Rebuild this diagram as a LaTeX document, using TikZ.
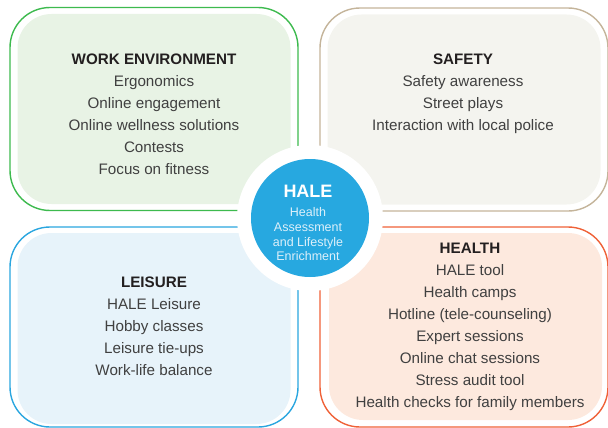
\documentclass[tikz,border=0pt]{standalone}
\usepackage{fontspec}
\setmainfont{Liberation Sans}
\usepackage{xcolor}
\usetikzlibrary{positioning}
\definecolor{workline}{HTML}{3DBA4E}
\definecolor{workfill}{HTML}{E8F3E5}
\definecolor{safeline}{HTML}{C4B49A}
\definecolor{safefill}{HTML}{F4F4EF}
\definecolor{leisline}{HTML}{2AA6DF}
\definecolor{leisfill}{HTML}{E7F3FA}
\definecolor{healline}{HTML}{EF6137}
\definecolor{healfill}{HTML}{FDE9DE}
\definecolor{haleblue}{HTML}{27A8E0}
\definecolor{haletext}{HTML}{DDF0FA}
\definecolor{textgray}{HTML}{404040}
\definecolor{headblack}{HTML}{231F20}

\begin{document}
\begin{tikzpicture}
            [x=1pt,y=-1pt,
             outer/.style ={draw,line width=1.4pt,rounded corners=40pt,inner sep=0pt,outer sep=0pt,minimum width=288pt,minimum height=203pt},
             inner/.style ={rounded corners=34pt,inner sep=0pt,outer sep=0pt,minimum width=273pt,minimum height=190pt},
             itemtext/.style ={align=center,anchor=base,inner sep=0pt,text=textgray,font=\fontsize{15.2}{22}\selectfont}]
            \useasboundingbox (0,0) rectangle (608,428);
            % the four quarters
            \node[outer][draw=workline] (work) at (154,109){};
            \node[outer][draw=safeline] (safety) at (464,109.5){};
            \node[outer][draw=leisline,minimum height=200pt] (leisure) at (154,327){};
            \node[outer][draw=healline,minimum height=200pt] (health) at (464,327){};
            \node[inner][fill=workfill] (workin) at (work){};
            \node[inner][fill=safefill] (safetyin) at (safety){};
            \node[inner][fill=leisfill,minimum height=191pt] (leisurein) at (154,328.5){};
            \node[inner][fill=healfill,minimum height=187pt] (healthin) at (465.5,326.5){};
            % middle circle
            \node[circle,fill=white,inner sep=0pt,minimum size=146pt] (ring) at (310,218){};
            \node[circle,fill=haleblue,inner sep=0pt,minimum size=118pt] (hale) at (ring){};
            \node[anchor=base,inner sep=0pt,text=white,font=\bfseries\fontsize{18}{18}\selectfont] (haletitle) at (308,197){HALE};
            % (base of a multi-line node is its last line)
            \node[anchor=base,align=center,inner sep=0pt,text=haletext,font=\fontsize{12.5}{14.8}\selectfont] (halesub) at (308,260.9){Health\\Assessment\\and Lifestyle\\Enrichment};
            % texts
            \node[itemtext] (worktext) at (154,174){\textcolor{headblack}{\textbf{WORK ENVIRONMENT}}\\Ergonomics\\Online engagement\\Online wellness solutions\\Contests\\Focus on fitness};
            \node[itemtext] (safetytext) at (463,130){\textcolor{headblack}{\textbf{SAFETY}}\\Safety awareness\\Street plays\\Interaction with local police};
            \node[itemtext] (leisuretext) at (154,375.5){\textcolor{headblack}{\textbf{LEISURE}}\\HALE Leisure\\Hobby classes\\Leisure tie-ups\\Work-life balance};
            \node[itemtext] (healthtext) at (470,407.5){\textcolor{headblack}{\textbf{HEALTH}}\\HALE tool\\Health camps\\Hotline (tele-counseling)\\Expert sessions\\Online chat sessions\\Stress audit tool\\Health checks for family members};
        \end{tikzpicture}
\end{document}
